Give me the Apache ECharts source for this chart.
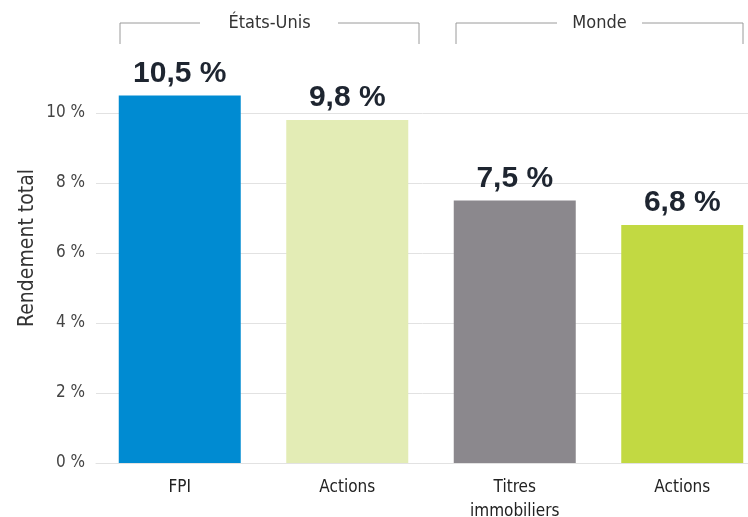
<!DOCTYPE html>
<html>
<head>
<meta charset="utf-8">
<script src="https://cdn.jsdelivr.net/npm/echarts@6/dist/echarts.min.js"></script>
<style>
  html, body { margin: 0; padding: 0; background: #fff; overflow: hidden; }
  #chart { width: 748px; height: 517px; }
</style>
</head>
<body>
<div id="chart"></div>
<script>
// données
const categories = ['FPI', 'Actions', 'Titres\nimmobiliers', 'Actions'];
const values = [10.5, 9.8, 7.5, 6.8];
const barColors = ['#008bd2', '#e3ecb5', '#8b888d', '#c2d942'];
const yTicks = [0, 2, 4, 6, 8, 10];
const groups = ['États-Unis', 'Monde'];

const narrow = "'Liberation Sans Narrow', 'DejaVu Sans Condensed', 'Roboto', sans-serif";

const myChart = echarts.init(document.getElementById('chart'));

function bracket(x1, x2, gapL, gapR, label) {
  const y = 23, yb = 44, c = '#9a9a9a';
  return [
    { type: 'polyline', shape: { points: [[x1, yb], [x1, y], [gapL, y]] }, style: { stroke: c, fill: null, lineWidth: 1 } },
    { type: 'polyline', shape: { points: [[gapR, y], [x2, y], [x2, yb]] }, style: { stroke: c, fill: null, lineWidth: 1 } },
    { type: 'text', x: (x1 + x2) / 2, y: y, style: { text: label, fill: '#333', font: '18px ' + narrow, align: 'center', verticalAlign: 'middle' } }
  ];
}

const option = {
  animation: false,
  grid: { left: 96, right: -18, top: 113, bottom: 54, outerBoundsMode: 'none' },
  xAxis: {
    type: 'category',
    data: categories,
    axisLine: { show: true, lineStyle: { color: '#e2e2e2', width: 1 } },
    axisTick: { show: false },
    axisLabel: { color: '#222', fontSize: 17, fontFamily: narrow, margin: 13, lineHeight: 24 }
  },
  yAxis: {
    type: 'value',
    min: yTicks[0],
    max: yTicks[yTicks.length - 1],
    interval: 2,
    axisLine: { show: false },
    axisTick: { show: false },
    splitLine: { lineStyle: { color: '#e2e2e2', width: 1 } },
    axisLabel: {
      color: '#444', fontSize: 17, fontFamily: narrow, margin: 11,
      padding: [0, 0, 10, 0],
      formatter: v => v + ' %'
    }
  },
  graphic: [
    ...bracket(120, 419, 200, 338, groups[0]),
    ...bracket(456, 743, 557, 642, groups[1]),
    {
      type: 'text', x: 28, y: 248, rotation: Math.PI / 2,
      style: { text: 'Rendement total', fill: '#333', font: '21px ' + narrow, align: 'center', verticalAlign: 'middle' }
    }
  ],
  series: [{
    type: 'bar',
    clip: false,
    barWidth: 122,
    data: values.map((v, i) => ({ value: v, itemStyle: { color: barColors[i] } })),
    label: {
      show: true,
      position: 'top',
      distance: 7,
      color: '#1e2530',
      fontSize: 30,
      fontWeight: 'bold',
      fontFamily: "'Liberation Sans', Arial, sans-serif",
      formatter: p => String(p.value).replace('.', ',') + ' %'
    }
  }]
};

myChart.setOption(option);
</script>
</body>
</html>
